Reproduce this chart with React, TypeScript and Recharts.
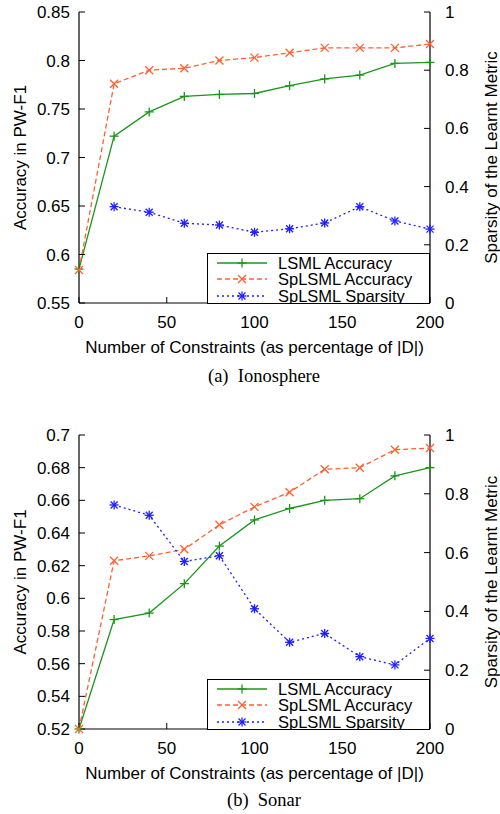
import React from 'react';
import { LineChart, Line, XAxis, YAxis, Legend } from 'recharts';

const xValues = [0, 20, 40, 60, 80, 100, 120, 140, 160, 180, 200];
const xTicks = [0, 50, 100, 150, 200];

const ionoLsml = [0.585, 0.722, 0.747, 0.763, 0.765, 0.766, 0.774, 0.781, 0.785, 0.797, 0.798];
const ionoSpLsml = [0.584, 0.776, 0.79, 0.792, 0.8, 0.803, 0.808, 0.813, 0.813, 0.813, 0.817];
const ionoSparsity = [null, 0.331, 0.312, 0.274, 0.268, 0.243, 0.255, 0.275, 0.331, 0.282, 0.254];
const ionoTicks = [0.55, 0.6, 0.65, 0.7, 0.75, 0.8, 0.85];

const sonarLsml = [0.52, 0.587, 0.591, 0.609, 0.632, 0.648, 0.655, 0.66, 0.661, 0.675, 0.68];
const sonarSpLsml = [0.52, 0.623, 0.626, 0.63, 0.645, 0.656, 0.665, 0.679, 0.68, 0.691, 0.692];
const sonarSparsity = [null, 0.762, 0.727, 0.57, 0.589, 0.409, 0.295, 0.325, 0.246, 0.218, 0.308];
const sonarTicks = [0.52, 0.54, 0.56, 0.58, 0.6, 0.62, 0.64, 0.66, 0.68, 0.7];

const sparsityTicks = [0, 0.2, 0.4, 0.6, 0.8, 1];

const GREEN = '#1a961a';
const ORANGE = '#ff6030';
const BLUE = '#1f1fff';
const FONT = '"Liberation Sans", Arial, sans-serif';
const tickStyle = { fontSize: 17, fill: '#000', fontFamily: FONT };

const fmt = (v: number) => String(Number(v.toFixed(2)));

// marker shapes (gnuplot style)
const plus = (cx: number, cy: number, c: string, r = 4.5) => (
    <>
        <line x1={cx - r} x2={cx + r} y1={cy} y2={cy} stroke={c} strokeWidth={1.3} />
        <line x1={cx} x2={cx} y1={cy - r} y2={cy + r} stroke={c} strokeWidth={1.3} />
    </>
);
const cross = (cx: number, cy: number, c: string, r = 4) => (
    <>
        <line x1={cx - r} x2={cx + r} y1={cy - r} y2={cy + r} stroke={c} strokeWidth={1.3} />
        <line x1={cx - r} x2={cx + r} y1={cy + r} y2={cy - r} stroke={c} strokeWidth={1.3} />
    </>
);
const star = (cx: number, cy: number, c: string) => (
    <>
        {plus(cx, cy, c, 4.5)}
        {cross(cx, cy, c, 3.5)}
    </>
);

const makeDot = (name: string, shape: (cx: number, cy: number, c: string) => React.ReactNode, color: string) =>
    (props: any) => {
        const { cx, cy, index, value } = props;
        if (cx == null || cy == null || value == null) return <g key={`${name}-${index}`} />;
        return <g key={`${name}-${index}`}>{shape(cx, cy, color)}</g>;
    };

const legendItems = [
    { name: 'LSML Accuracy', color: GREEN, dash: undefined, shape: plus },
    { name: 'SpLSML Accuracy', color: ORANGE, dash: '5 3', shape: cross },
    { name: 'SpLSML Sparsity', color: BLUE, dash: '2 3', shape: star },
];

const LegendBox = () => (
    <div style={{
        width: 223, height: 51, boxSizing: 'border-box', border: '1px solid #000', background: '#fff',
        paddingTop: 1, color: '#000', overflow: 'hidden',
    }}>
        {legendItems.map(item => (
            <div key={item.name} style={{ display: 'flex', alignItems: 'center', height: 16.3 }}>
                <svg width={70} height={14} style={{ flex: 'none' }}>
                    <line x1={9} x2={59} y1={7} y2={7} stroke={item.color} strokeWidth={1.3} strokeDasharray={item.dash} />
                    {item.shape(34, 7, item.color)}
                </svg>
                <span style={{
                    display: 'block', whiteSpace: 'nowrap', fontFamily: FONT, fontSize: 16.5,
                    lineHeight: '16.3px', height: 16.3,
                }}>{item.name}</span>
            </div>
        ))}
    </div>
);

const vLabel = (text: string, cx: number) => (props: any) => {
    const vb = props.viewBox;
    const cy = vb.y + vb.height / 2;
    return (
        <text x={cx} y={cy} transform={`rotate(-90 ${cx} ${cy})`} textAnchor="middle" dominantBaseline="central"
            fontSize={17} fontFamily={FONT} fill="#000">{text}</text>
    );
};

const xLabel = (props: any) => {
    const vb = props.viewBox;
    return (
        <text x={vb.x + vb.width / 2} y={vb.y + 50} textAnchor="middle" fontSize={17} fontFamily={FONT} fill="#000">
            Number of Constraints (as percentage of |D|)
        </text>
    );
};

interface PanelProps {
    lsml: number[];
    splsml: number[];
    sparsity: (number | null)[];
    ticks: number[];
    domain: [number, number];
    height: number;
}

const Panel: React.FC<PanelProps> = ({ lsml, splsml, sparsity, ticks, domain, height }) => {
    const data = xValues.map((x, i) => ({ x, lsml: lsml[i], splsml: splsml[i], sparsity: sparsity[i] }));
    const axisLine = { stroke: '#000', strokeWidth: 1.2 };
    const tickLine = { stroke: '#000', strokeWidth: 1 };
    return (
        <LineChart width={500} height={height} data={data} margin={{ top: 12, right: 0, bottom: 0, left: 0 }}>
            <XAxis dataKey="x" type="number" domain={[0, 200]} ticks={xTicks} height={57}
                tickSize={-6} tickMargin={19} tick={tickStyle} axisLine={axisLine} tickLine={tickLine}
                label={{ content: xLabel }} />
            <XAxis xAxisId="top" orientation="top" dataKey="x" type="number" domain={[0, 200]} ticks={xTicks}
                height={0} tickSize={-6} tick={false} axisLine={axisLine} tickLine={tickLine} />
            <YAxis yAxisId="left" domain={domain} ticks={ticks} width={79} tickSize={-6} tickMargin={15}
                tick={tickStyle} tickFormatter={fmt} axisLine={axisLine} tickLine={tickLine}
                label={{ content: vLabel('Accuracy in PW-F1', 20) }} />
            <YAxis yAxisId="leftMirror" orientation="right" domain={domain} ticks={ticks} width={0}
                tickSize={-6} tick={false} axisLine={axisLine} tickLine={tickLine} />
            <YAxis yAxisId="right" orientation="right" domain={[0, 1]} ticks={sparsityTicks} width={70}
                tickSize={-6} tickMargin={21} tick={tickStyle} tickFormatter={fmt} axisLine={axisLine}
                tickLine={tickLine} label={{ content: vLabel('Sparsity of the Learnt Metric', 491) }} />
            <Line yAxisId="left" dataKey="lsml" stroke={GREEN} strokeWidth={1.3} isAnimationActive={false}
                dot={makeDot('lsml', plus, GREEN)} />
            <Line yAxisId="left" dataKey="splsml" stroke={ORANGE} strokeWidth={1.3} strokeDasharray="5 3"
                isAnimationActive={false} dot={makeDot('splsml', cross, ORANGE)} />
            <Line yAxisId="right" dataKey="sparsity" stroke={BLUE} strokeWidth={1.3} strokeDasharray="2 3"
                isAnimationActive={false} dot={makeDot('sparsity', star, BLUE)} />
            <Legend layout="vertical" align="center" verticalAlign="middle" content={() => <LegendBox />}
                wrapperStyle={{ left: 207, top: height - 57 - 50, width: 223, height: 51 }} />
        </LineChart>
    );
};

const captionStyle: React.CSSProperties = {
    position: 'absolute', left: 64, width: 400, height: 22, lineHeight: '22px', textAlign: 'center',
    fontFamily: '"Liberation Serif", "Times New Roman", serif', fontSize: 18.5, whiteSpace: 'pre', color: '#000',
};

export default function App() {
    return (
        <div style={{ position: 'absolute', left: 0, top: 0, width: 500, height: 814, background: '#fff' }}>
            <div style={{ position: 'absolute', left: 0, top: 0 }}>
                <Panel lsml={ionoLsml} splsml={ionoSpLsml} sparsity={ionoSparsity} ticks={ionoTicks}
                    domain={[0.55, 0.85]} height={360} />
            </div>
            <div style={{ ...captionStyle, top: 365 }}>(a)  Ionosphere</div>
            <div style={{ position: 'absolute', left: 0, top: 423 }}>
                <Panel lsml={sonarLsml} splsml={sonarSpLsml} sparsity={sonarSparsity} ticks={sonarTicks}
                    domain={[0.52, 0.7]} height={363} />
            </div>
            <div style={{ ...captionStyle, top: 789 }}>(b)  Sonar</div>
        </div>
    );
}
